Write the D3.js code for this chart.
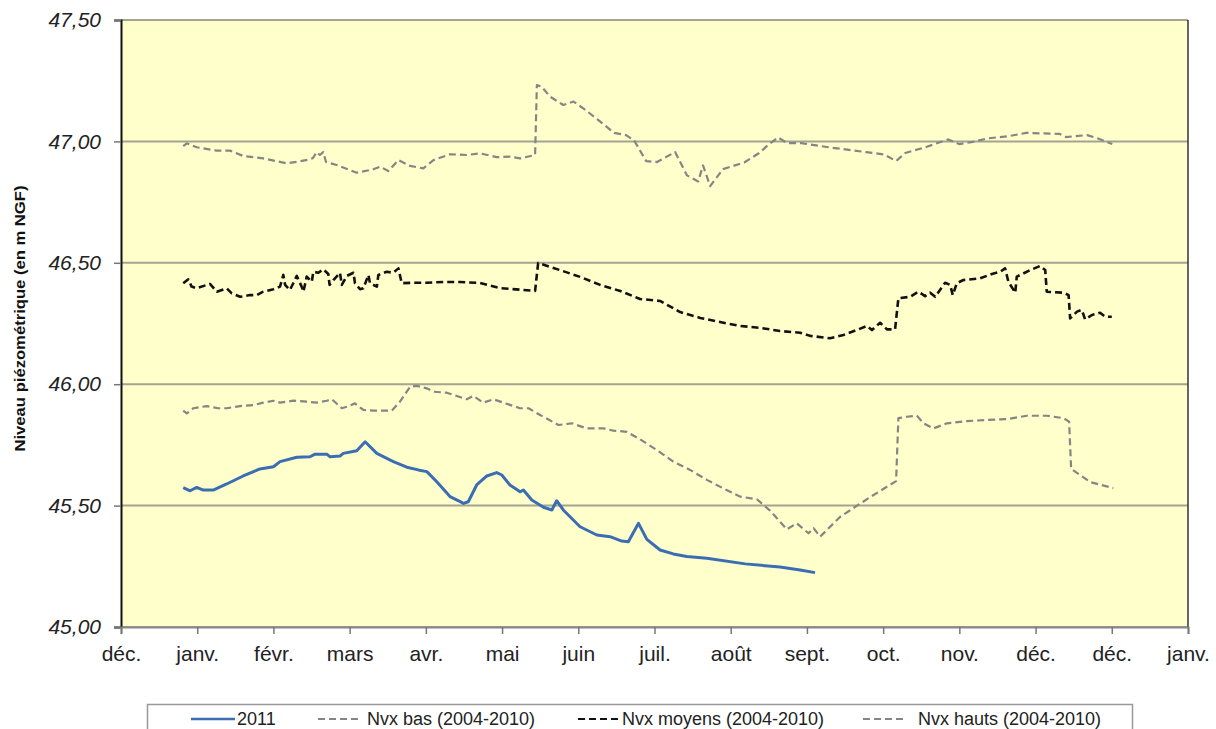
<!DOCTYPE html>
<html><head><meta charset="utf-8">
<script src="https://cdn.jsdelivr.net/npm/d3@7"></script>
<style>
body{margin:0;background:#fff;}
svg{display:block;font-family:"Liberation Sans",Arial,sans-serif;}
</style></head>
<body><svg id="chart" width="1216" height="729"></svg>
<script>
// x = days from first tick (ticks every 30 days)
const xTickLabels = ["déc.","janv.","févr.","mars","avr.","mai","juin","juil.","août","sept.","oct.","nov.","déc.","déc.","janv."];
const yTicks = [45.0, 45.5, 46.0, 46.5, 47.0, 47.5];
const seriesNames = ["2011","Nvx bas (2004-2010)","Nvx moyens (2004-2010)","Nvx hauts (2004-2010)"];

const s2011 = [[24.5,45.574],[27.2,45.561],[29.8,45.575],[32.4,45.564],[36.3,45.564],[41.6,45.589],[48.1,45.622],[54.7,45.651],[60,45.660],[62.6,45.681],[69.2,45.699],[74.4,45.701],[76.4,45.712],[81,45.712],[82.3,45.701],[86.2,45.704],[87.5,45.715],[92.8,45.726],[96.1,45.763],[100.7,45.715],[107.2,45.681],[112.5,45.658],[117,45.647],[120.4,45.640],[124.3,45.598],[129.5,45.537],[133.5,45.516],[134.8,45.509],[136.7,45.516],[140,45.585],[144,45.622],[147.9,45.636],[149.9,45.626],[153.1,45.585],[157.1,45.557],[158.4,45.564],[161.7,45.523],[166.3,45.493],[169.6,45.482],[171.5,45.520],[174.1,45.482],[180.7,45.413],[187.3,45.379],[192.5,45.372],[197.1,45.354],[199.7,45.351],[203.7,45.427],[207,45.361],[212.2,45.317],[217.4,45.301],[222.7,45.290],[230.6,45.283],[245.7,45.260],[259.4,45.247],[267.3,45.235],[273.2,45.224]];

const sBas = [[24.5,45.891],[25.9,45.880],[28.5,45.901],[33.7,45.910],[38.3,45.901],[41.6,45.901],[46.9,45.910],[52.1,45.914],[56.0,45.924],[60.0,45.932],[62.6,45.924],[65.2,45.928],[67.8,45.932],[73.1,45.928],[77.0,45.924],[81.0,45.932],[83.0,45.938],[86.9,45.901],[88.9,45.907],[92.1,45.921],[95.4,45.894],[99.3,45.891],[106.6,45.891],[109.8,45.928],[113.8,45.990],[116.4,45.993],[120.4,45.983],[123.0,45.969],[128.2,45.965],[130.8,45.956],[136.1,45.938],[138.7,45.952],[142.6,45.924],[146.6,45.938],[151.9,45.919],[157.1,45.901],[160.4,45.901],[165.0,45.873],[172.2,45.832],[177.4,45.839],[183.3,45.818],[189.9,45.818],[193.8,45.809],[199.1,45.804],[204.3,45.773],[210.9,45.729],[217.4,45.681],[224.0,45.647],[230.6,45.606],[237.1,45.571],[243.7,45.537],[250.3,45.526],[255.5,45.479],[262.1,45.402],[266.0,45.427],[270.6,45.386],[272.6,45.407],[275.2,45.372],[283.1,45.454],[294.9,45.535],[305.1,45.601],[306.0,45.860],[309.3,45.866],[313.3,45.870],[315.9,45.839],[319.8,45.818],[325.1,45.839],[333.0,45.848],[340.8,45.853],[348.7,45.856],[356.6,45.870],[364.4,45.870],[371.0,45.860],[373.2,45.846],[374.0,45.651],[381.5,45.597],[390.6,45.572]];

const sMoyens = [[24.5,46.416],[26.5,46.432],[27.8,46.402],[29.8,46.395],[35.0,46.413],[37.7,46.381],[41.6,46.395],[43.6,46.374],[46.9,46.360],[50.8,46.367],[53.4,46.367],[56.0,46.381],[60.0,46.391],[62.6,46.402],[63.9,46.450],[64.6,46.409],[66.5,46.388],[67.8,46.416],[69.2,46.446],[71.1,46.402],[71.8,46.381],[73.1,46.443],[75.1,46.422],[75.7,46.463],[77.7,46.459],[79.6,46.473],[81.6,46.454],[82.1,46.409],[83.6,46.429],[86.2,46.459],[86.9,46.409],[88.9,46.446],[91.5,46.459],[92.1,46.416],[94.1,46.391],[95.4,46.395],[97.4,46.450],[98.0,46.416],[100.7,46.402],[101.3,46.450],[104.6,46.463],[107.2,46.459],[109.2,46.477],[110.5,46.416],[115.1,46.418],[120.4,46.418],[126.9,46.421],[133.5,46.421],[141.3,46.417],[149.2,46.396],[163.0,46.384],[164.2,46.499],[172.8,46.470],[180.7,46.442],[188.6,46.409],[196.5,46.384],[204.3,46.351],[212.2,46.343],[220.1,46.297],[228.0,46.273],[235.8,46.256],[243.7,46.240],[251.6,46.232],[259.4,46.219],[267.3,46.212],[271.3,46.199],[279.1,46.189],[284.4,46.203],[289.6,46.223],[293.6,46.240],[295.6,46.223],[298.8,46.253],[301.5,46.226],[304.7,46.226],[306.0,46.354],[310.6,46.360],[313.9,46.381],[316.5,46.363],[318.5,46.377],[320.5,46.360],[324.4,46.418],[326.4,46.409],[327.4,46.367],[329.0,46.416],[331.6,46.429],[338.2,46.436],[342.8,46.454],[346.1,46.463],[348.0,46.477],[349.3,46.422],[352.0,46.377],[352.6,46.443],[357.9,46.470],[361.8,46.487],[363.8,46.470],[364.4,46.381],[371.0,46.377],[373.0,46.367],[373.6,46.271],[376.3,46.299],[378.2,46.306],[379.5,46.267],[382.2,46.285],[385.4,46.294],[387.4,46.278],[390.0,46.278]];

const sHauts = [[24.5,46.981],[25.9,46.992],[29.8,46.976],[37.7,46.962],[42.9,46.962],[48.1,46.940],[56.0,46.930],[65.2,46.910],[69.2,46.916],[74.4,46.926],[75.6,46.932],[77.0,46.956],[78.3,46.944],[79.6,46.956],[80.7,46.915],[84.9,46.903],[92.8,46.871],[99.3,46.885],[102.0,46.896],[105.2,46.878],[109.2,46.923],[113.8,46.899],[119.0,46.889],[123.0,46.923],[129.5,46.947],[136.1,46.944],[141.3,46.951],[147.9,46.935],[153.1,46.937],[157.1,46.930],[163.0,46.944],[163.7,47.232],[165.6,47.225],[168.9,47.184],[174.1,47.150],[178.1,47.164],[182.0,47.136],[187.9,47.088],[194.1,47.035],[198.8,47.026],[202.0,47.004],[206.7,46.919],[211.0,46.915],[218.1,46.956],[222.8,46.860],[227.2,46.835],[229.1,46.901],[231.9,46.816],[237.0,46.886],[245.3,46.913],[251.2,46.952],[255.1,46.989],[258.7,47.016],[262.2,46.993],[267.7,46.993],[279.1,46.975],[293.3,46.956],[300.4,46.946],[305.1,46.919],[308.7,46.952],[316.9,46.977],[325.6,47.008],[329.9,46.989],[335.4,46.998],[340.9,47.012],[349.6,47.022],[356.3,47.035],[369.3,47.031],[372.0,47.018],[380.3,47.026],[384.6,47.012],[390.2,46.989]];

const W = 1216, H = 729;
const L = 121, T = 20, R = 1188, B = 627;
const svg = d3.select("#chart");

const x = d3.scaleLinear().domain([0, 420]).range([L, R]);
const y = d3.scaleLinear().domain([45, 47.5]).range([B, T]);

// plot background
svg.append("rect").attr("x", L).attr("y", T).attr("width", R - L).attr("height", B - T).attr("fill", "#ffffcc");

// gridlines
svg.append("g").selectAll("line").data(yTicks).join("line")
  .attr("x1", L).attr("x2", R)
  .attr("y1", d => y(d)).attr("y2", d => y(d))
  .attr("stroke", "#a3a394").attr("stroke-width", 2);

// right border
svg.append("line").attr("x1", R).attr("x2", R).attr("y1", T).attr("y2", B).attr("stroke", "#333").attr("stroke-width", 1.5);

// axes
const fmtY = d => d.toFixed(2).replace(".", ",");
const yAxis = svg.append("g").attr("transform", `translate(${L},0)`)
  .call(d3.axisLeft(y).tickValues(yTicks).tickFormat(fmtY).tickSize(7).tickPadding(13));
yAxis.select(".domain").attr("stroke", "#111").attr("stroke-width", 2);
yAxis.selectAll(".tick line").attr("stroke", "#777").attr("stroke-width", 1.5);
yAxis.selectAll(".tick text").attr("font-size", 21).attr("font-style", "italic").attr("fill", "#222")
  .attr("font-family", "'Liberation Sans',Arial,sans-serif");

const xAxis = svg.append("g").attr("transform", `translate(0,${B})`)
  .call(d3.axisBottom(x).tickValues(d3.range(0, 421, 30)).tickFormat((d, i) => xTickLabels[i]).tickSize(7).tickPadding(12));
xAxis.select(".domain").attr("stroke", "#888").attr("stroke-width", 2);
xAxis.selectAll(".tick line").attr("stroke", "#777").attr("stroke-width", 1.5);
xAxis.selectAll(".tick text").attr("font-size", 21).attr("fill", "#222")
  .attr("font-family", "'Liberation Sans',Arial,sans-serif");

// Y title
svg.append("text").attr("transform", `translate(25,${(T + B) / 2 - 5}) rotate(-90)`)
  .attr("text-anchor", "middle").attr("font-size", 15).attr("font-weight", "bold").attr("fill", "#111")
  .attr("textLength", 266).attr("lengthAdjust", "spacingAndGlyphs")
  .text("Niveau piézométrique (en m NGF)");

// lines
const line = d3.line().x(d => x(d[0])).y(d => y(d[1]));
const styles = [
  {data: sBas, stroke: "#858585", width: 2.2, dash: "7,4"},
  {data: sHauts, stroke: "#858585", width: 2.2, dash: "7,4"},
  {data: sMoyens, stroke: "#111", width: 2.6, dash: "7,4"},
  {data: s2011, stroke: "#3b6db3", width: 3, dash: null}
];
styles.forEach(s => {
  svg.append("path").datum(s.data).attr("d", line)
    .attr("fill", "none").attr("stroke", s.stroke).attr("stroke-width", s.width)
    .attr("stroke-dasharray", s.dash).attr("stroke-linejoin", "round");
});

// legend
const lg = svg.append("g");
lg.append("rect").attr("x", 147.5).attr("y", 704.5).attr("width", 985).attr("height", 40)
  .attr("fill", "#fff").attr("stroke", "#999").attr("stroke-width", 1.5);
const legendItems = [
  {name: seriesNames[0], x0: 191, x1: 235, tx: 237, stroke: "#3b6db3", dash: null, w: 2.5},
  {name: seriesNames[1], x0: 318, x1: 360, tx: 367, stroke: "#858585", dash: "7,4", w: 2},
  {name: seriesNames[2], x0: 578, x1: 620, tx: 622, stroke: "#111", dash: "7,4", w: 2.2},
  {name: seriesNames[3], x0: 863, x1: 905, tx: 918, stroke: "#858585", dash: "7,4", w: 2}
];
legendItems.forEach(it => {
  lg.append("line").attr("x1", it.x0).attr("x2", it.x1).attr("y1", 719).attr("y2", 719)
    .attr("stroke", it.stroke).attr("stroke-width", it.w).attr("stroke-dasharray", it.dash);
  lg.append("text").attr("x", it.tx).attr("y", 719).attr("dy", "0.35em")
    .attr("font-size", 18).attr("fill", "#222").text(it.name);
});
</script></body></html>
